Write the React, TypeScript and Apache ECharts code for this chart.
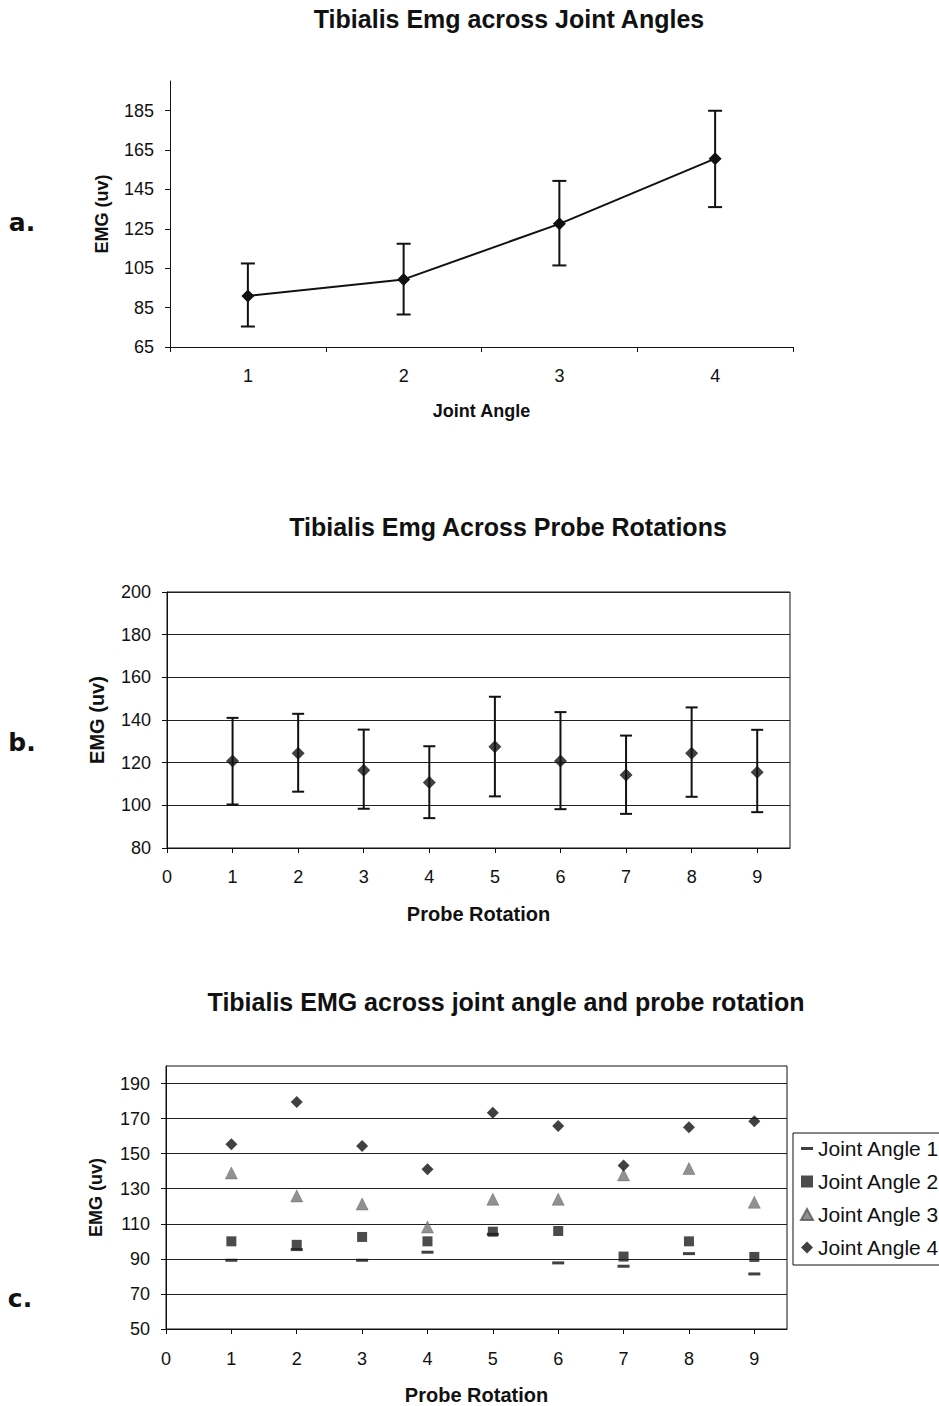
import React, { useEffect, useRef } from "react";
import * as echarts from "echarts";

// Panel a: mean EMG per joint angle with error bars
const jointAngles = ["1", "2", "3", "4"];
const angleMean = [90.9, 99.3, 127.5, 160.6];
const angleUpper = [107.4, 117.4, 149.3, 184.9];
const angleLower = [75.4, 81.5, 106.4, 136];
const angleYTicks = [65, 85, 105, 125, 145, 165, 185];

// Panel b: mean EMG per probe rotation with error bars
const rotations = [1, 2, 3, 4, 5, 6, 7, 8, 9];
const rotationMean = [120.8, 124.4, 116.5, 110.7, 127.5, 120.8, 114.2, 124.4, 115.5];
const rotationUpper = [141, 142.9, 135.5, 127.7, 150.9, 143.7, 132.7, 145.9, 135.4];
const rotationLower = [100.4, 106.4, 98.4, 94, 104.2, 98.2, 96, 104, 96.8];
const rotationXTicks = [0, 1, 2, 3, 4, 5, 6, 7, 8, 9];

// Panel c: EMG per joint angle at each probe rotation
const jointAngle1 = [89.2, 95.3, 89.2, 93.8, 104, 87.7, 85.8, 93, 81.4];
const jointAngle2 = [100, 98, 102.5, 100, 105.5, 105.9, 91.3, 100, 91.1];
const jointAngle3 = [139, 125.9, 121.3, 108.2, 124, 124, 137.9, 141.5, 122.3];
const jointAngle4 = [155.4, 179.4, 154.4, 141.1, 173.3, 165.8, 143.2, 165.1, 168.5];
const comboYTicks = [50, 70, 90, 110, 130, 150, 170, 190];
const seriesNames = ["Joint Angle 1", "Joint Angle 2", "Joint Angle 3", "Joint Angle 4"];

const FONT = '"Liberation Sans", Arial, Helvetica, sans-serif';
const INK = "#111";

function errorBarItem(capHalf: number) {
  return (params: any, api: any) => {
    const x = api.value(0);
    const lo = api.value(1);
    const hi = api.value(2);
    const top = api.coord([x, hi]);
    const bot = api.coord([x, lo]);
    const style = { stroke: INK, lineWidth: 2 };
    return {
      type: "group",
      children: [
        { type: "line", shape: { x1: top[0], y1: top[1], x2: bot[0], y2: bot[1] }, style },
        { type: "line", shape: { x1: top[0] - capHalf, y1: top[1], x2: top[0] + capHalf, y2: top[1] }, style },
        { type: "line", shape: { x1: bot[0] - capHalf, y1: bot[1], x2: bot[0] + capHalf, y2: bot[1] }, style },
      ],
    };
  };
}

function yAxisBase(gridIndex: number, fontSize: number) {
  return {
    gridIndex,
    type: "value" as const,
    nameLocation: "middle" as const,
    nameRotate: 90,
    nameTextStyle: { fontFamily: FONT, fontWeight: "bold" as const, color: INK },
    axisLine: { show: true, lineStyle: { color: INK, width: 1 } },
    axisTick: { show: true, length: 5, inside: false, lineStyle: { color: INK } },
    axisLabel: { color: INK, fontFamily: FONT, fontSize, margin: 16 },
  };
}

export default function App() {
  const ref = useRef<HTMLDivElement>(null);

  useEffect(() => {
    if (!ref.current) return;
    const chart = echarts.init(ref.current, undefined, { renderer: "svg" });

    const titleStyle = (text: string, x: number, y: number) => ({
      type: "text",
      x,
      y,
      style: {
        text,
        align: "center",
        verticalAlign: "middle",
        fontFamily: FONT,
        fontWeight: "bold",
        fontSize: 25,
        fill: INK,
      },
    });
    const panelTag = (text: string, x: number, y: number) => ({
      type: "text",
      x,
      y,
      style: {
        text,
        align: "center",
        verticalAlign: "middle",
        fontFamily: '"DejaVu Sans", sans-serif',
        fontWeight: "bold",
        fontSize: 25,
        fill: INK,
      },
    });

    const legendIcons = [
      "path://M0,0H12V3H0Z",
      "path://M0,0H10V10H0Z",
      "path://M6,0L12,11H0Z",
      "path://M6,0L12,6L6,12L0,6Z",
    ];

    chart.setOption({
      animation: false,
      backgroundColor: "#fff",
      graphic: [
        titleStyle("Tibialis Emg across Joint Angles", 509, 19),
        titleStyle("Tibialis Emg Across Probe Rotations", 508, 527),
        titleStyle("Tibialis EMG across joint angle and probe rotation", 506, 1002),
        panelTag("a.", 22, 222),
        panelTag("b.", 22, 742),
        panelTag("c.", 20, 1298),
      ],
      grid: [
        { left: 170, top: 81, width: 623, height: 266, containLabel: false },
        { left: 167, top: 592, width: 623, height: 256, show: true, borderColor: INK, borderWidth: 1, backgroundColor: "transparent" },
        { left: 166, top: 1066, width: 621, height: 263, show: true, borderColor: INK, borderWidth: 1, backgroundColor: "transparent" },
      ],
      legend: {
        orient: "vertical",
        left: 793,
        top: 1133,
        padding: [5, 6, 7, 7],
        itemGap: 12,
        itemWidth: 12,
        itemHeight: 12,
        borderColor: INK,
        borderWidth: 1,
        textStyle: { fontFamily: FONT, fontSize: 21, color: INK, lineHeight: 20 },
        data: seriesNames.map((name, i) => ({ name, icon: legendIcons[i] })),
      },
      xAxis: [
        {
          gridIndex: 0,
          type: "category",
          data: jointAngles,
          boundaryGap: true,
          name: "Joint Angle",
          nameLocation: "middle",
          nameGap: 55,
          nameTextStyle: { fontFamily: FONT, fontWeight: "bold", fontSize: 18, color: INK },
          axisLine: { show: true, lineStyle: { color: INK, width: 1 } },
          axisTick: { show: true, length: 5, alignWithLabel: false, lineStyle: { color: INK } },
          axisLabel: { color: INK, fontFamily: FONT, fontSize: 18, margin: 20 },
          splitLine: { show: false },
        },
        {
          gridIndex: 1,
          type: "value",
          min: 0,
          max: 9.5,
          interval: 1,
          name: "Probe Rotation",
          nameLocation: "middle",
          nameGap: 56,
          nameTextStyle: { fontFamily: FONT, fontWeight: "bold", fontSize: 20, color: INK },
          axisLine: { show: true, onZero: false, lineStyle: { color: INK, width: 1 } },
          axisTick: { show: true, length: 5, customValues: rotationXTicks, lineStyle: { color: INK } },
          axisLabel: { color: INK, fontFamily: FONT, fontSize: 18, margin: 20, customValues: rotationXTicks },
          splitLine: { show: false },
        },
        {
          gridIndex: 2,
          type: "value",
          min: 0,
          max: 9.5,
          interval: 1,
          name: "Probe Rotation",
          nameLocation: "middle",
          nameGap: 56,
          nameTextStyle: { fontFamily: FONT, fontWeight: "bold", fontSize: 20, color: INK },
          axisLine: { show: true, onZero: false, lineStyle: { color: INK, width: 1 } },
          axisTick: { show: true, length: 5, customValues: rotationXTicks, lineStyle: { color: INK } },
          axisLabel: { color: INK, fontFamily: FONT, fontSize: 18, margin: 21, customValues: rotationXTicks },
          splitLine: { show: false },
        },
      ],
      yAxis: [
        {
          ...yAxisBase(0, 18),
          min: 65,
          max: 200,
          interval: 20,
          name: "EMG (uv)",
          nameGap: 59,
          nameTextStyle: { fontFamily: FONT, fontWeight: "bold", fontSize: 18, color: INK },
          axisTick: { show: true, length: 5, customValues: angleYTicks, lineStyle: { color: INK } },
          axisLabel: { color: INK, fontFamily: FONT, fontSize: 18, margin: 16, customValues: angleYTicks },
          splitLine: { show: false },
        },
        {
          ...yAxisBase(1, 18),
          min: 80,
          max: 200,
          interval: 20,
          name: "EMG (uv)",
          nameGap: 60,
          nameTextStyle: { fontFamily: FONT, fontWeight: "bold", fontSize: 20, color: INK },
          splitLine: { show: true, lineStyle: { color: "#222", width: 1 } },
        },
        {
          ...yAxisBase(2, 18),
          min: 50,
          max: 200,
          interval: 20,
          name: "EMG (uv)",
          nameGap: 61,
          nameTextStyle: { fontFamily: FONT, fontWeight: "bold", fontSize: 18, color: INK },
          axisTick: { show: true, length: 5, customValues: comboYTicks, lineStyle: { color: INK } },
          axisLabel: { color: INK, fontFamily: FONT, fontSize: 18, margin: 16, customValues: comboYTicks },
          splitLine: { show: true, lineStyle: { color: "#222", width: 1 } },
        },
      ],
      series: [
        {
          type: "custom",
          xAxisIndex: 0,
          yAxisIndex: 0,
          renderItem: errorBarItem(7),
          encode: { x: 0, y: [1, 2] },
          data: jointAngles.map((_, i) => [i, angleLower[i], angleUpper[i]]),
          z: 1,
          silent: true,
        },
        {
          type: "line",
          xAxisIndex: 0,
          yAxisIndex: 0,
          data: angleMean,
          symbol: "diamond",
          symbolSize: 13,
          lineStyle: { color: INK, width: 2 },
          itemStyle: { color: INK },
          z: 3,
        },
        {
          type: "custom",
          xAxisIndex: 1,
          yAxisIndex: 1,
          renderItem: errorBarItem(6),
          encode: { x: 0, y: [1, 2] },
          data: rotations.map((r, i) => [r, rotationLower[i], rotationUpper[i]]),
          z: 1,
          silent: true,
        },
        {
          type: "scatter",
          xAxisIndex: 1,
          yAxisIndex: 1,
          data: rotations.map((r, i) => [r, rotationMean[i]]),
          symbol: "diamond",
          symbolSize: 13,
          itemStyle: { color: INK },
          z: 3,
        },
        {
          name: seriesNames[0],
          type: "scatter",
          xAxisIndex: 2,
          yAxisIndex: 2,
          data: rotations.map((r, i) => [r, jointAngle1[i]]),
          symbol: "rect",
          symbolSize: [12, 3],
          itemStyle: { color: INK },
          z: 3,
        },
        {
          name: seriesNames[1],
          type: "scatter",
          xAxisIndex: 2,
          yAxisIndex: 2,
          data: rotations.map((r, i) => [r, jointAngle2[i]]),
          symbol: "rect",
          symbolSize: 10,
          itemStyle: { color: "#1e1e1e" },
          z: 4,
        },
        {
          name: seriesNames[2],
          type: "scatter",
          xAxisIndex: 2,
          yAxisIndex: 2,
          data: rotations.map((r, i) => [r, jointAngle3[i]]),
          symbol: "triangle",
          symbolSize: 12,
          itemStyle: { color: "#767676", borderColor: "#555", borderWidth: 0.5 },
          z: 5,
        },
        {
          name: seriesNames[3],
          type: "scatter",
          xAxisIndex: 2,
          yAxisIndex: 2,
          data: rotations.map((r, i) => [r, jointAngle4[i]]),
          symbol: "diamond",
          symbolSize: 12,
          itemStyle: { color: INK },
          z: 6,
        },
      ],
    });

    return () => chart.dispose();
  }, []);

  return (
    <div
      ref={ref}
      style={{ position: "absolute", left: 0, top: 0, width: 939, height: 1406, background: "#fff" }}
    />
  );
}
